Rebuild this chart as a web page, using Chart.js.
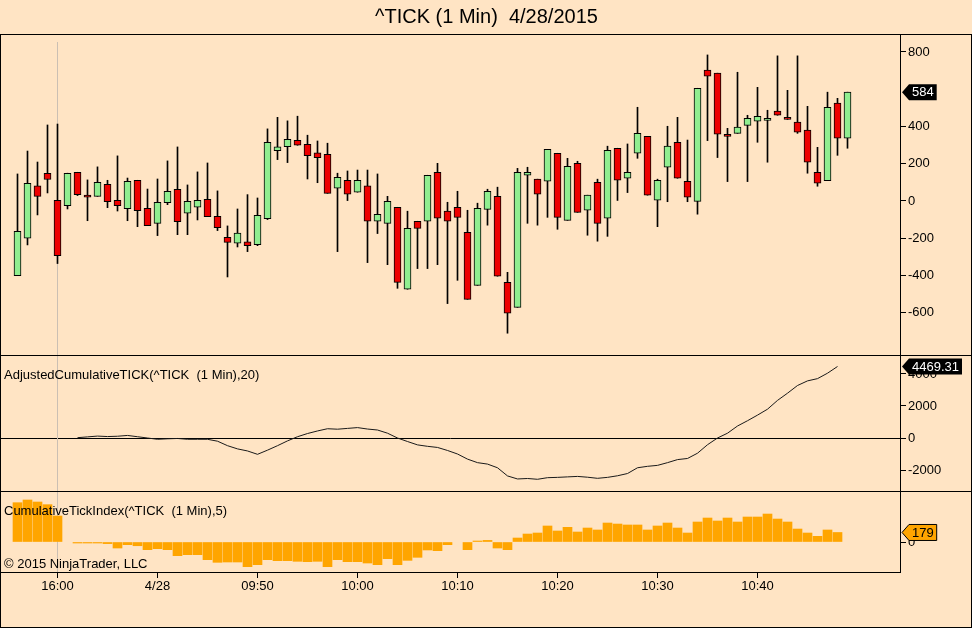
<!DOCTYPE html>
<html><head><meta charset="utf-8">
<script src="https://cdn.jsdelivr.net/npm/chart.js@4.4.1/dist/chart.umd.min.js"></script>
<style>html,body{margin:0;padding:0;background:#FFE4C4;}canvas{display:block;}</style>
</head><body>
<canvas id="c" width="972" height="628"></canvas>
<script>
const times = ['15:56','15:57','15:58','15:59','16:00',
'09:31','09:32','09:33','09:34','09:35','09:36','09:37','09:38','09:39','09:40',
'09:41','09:42','09:43','09:44','09:45','09:46','09:47','09:48','09:49','09:50',
'09:51','09:52','09:53','09:54','09:55','09:56','09:57','09:58','09:59','10:00',
'10:01','10:02','10:03','10:04','10:05','10:06','10:07','10:08','10:09','10:10',
'10:11','10:12','10:13','10:14','10:15','10:16','10:17','10:18','10:19','10:20',
'10:21','10:22','10:23','10:24','10:25','10:26','10:27','10:28','10:29','10:30',
'10:31','10:32','10:33','10:34','10:35','10:36','10:37','10:38','10:39','10:40',
'10:41','10:42','10:43','10:44','10:45','10:46','10:47','10:48','10:49'];

const openV = [-401,-200,81,149,4,-25,154,32,25,89,4,-41,111,-39,-120,-9,63,-66,-34,9,
-82,-195,-227,-220,-235,-95,270,292,326,304,258,251,68,111,47,81,-109,-120,-34,-474,
-109,-109,154,-55,-34,-168,-453,-45,25,-437,-571,138,117,106,256,-104,202,-50,100,-93,
283,122,256,347,4,181,315,106,-2,702,686,358,363,406,428,433,482,440,423,380,
154,109,525,337];
const highV = [145,268,209,408,413,149,154,113,183,111,242,123,111,64,118,215,290,86,156,204,
54,-134,-43,34,16,387,449,430,455,353,322,310,149,161,166,166,145,25,-34,-55,
-109,138,202,-7,52,-50,-12,63,74,-383,175,181,117,277,256,229,213,31,117,294,
283,306,503,347,117,401,449,327,605,784,686,390,691,460,610,487,779,594,779,508,
288,584,551,584];
const lowV = [-401,-236,-75,43,-336,-43,29,-106,25,-36,-54,-106,-138,-132,-186,-20,-181,-181,-102,-84,
-159,-408,-247,-272,-240,-100,222,206,299,118,98,41,-272,2,47,-331,-175,-342,-469,-474,
-363,-363,-342,-551,-426,-528,-453,-130,-404,-710,-571,-120,-130,-88,-152,-104,-61,-184,-216,-190,
0,45,229,31,-138,-4,122,-4,-71,324,233,104,363,104,315,208,460,438,363,149,
79,109,245,283];
const closeV = [-163,95,25,115,-294,149,34,20,100,-4,-25,106,-52,-132,-7,52,-111,-2,4,-84,
-143,-222,-173,-240,-77,315,290,331,299,243,233,41,127,36,111,-109,-72,-2,-437,-147,
-147,138,-93,-109,-88,-528,-39,52,-404,-603,154,154,36,277,-88,186,-61,31,-120,272,
111,154,363,31,111,294,122,20,605,670,358,347,396,444,455,444,460,438,369,208,
95,503,337,584];

const actValues = [null,null,null,null,null,null,
20,70,120,90,110,160,80,0,-80,-50,
-30,-80,-80,-80,-200,-480,-680,-810,-1020,-760,
-480,-180,80,280,440,580,550,600,650,560,
500,300,0,-220,-430,-520,-590,-780,-1000,-1320,
-1540,-1630,-1860,-2370,-2560,-2530,-2580,-2480,-2460,-2430,
-2400,-2450,-2520,-2460,-2360,-2220,-1860,-1770,-1710,-1540,
-1350,-1280,-950,-420,0,300,750,1080,1430,1800,
2350,2800,3280,3570,3710,4050,4469.31,null];

const ctiValues = [739,790,752,702,489,null,-15,-15,-15,-30,
-113,-50,-70,-144,-125,-144,-257,-238,-238,-332,
-382,-376,-376,-464,-426,-332,-351,-351,-363,-370,
-363,-464,-332,-370,-370,-395,-426,-313,-426,-345,
-288,-150,-163,-50,null,-144,5,30,-113,-144,
75,150,169,301,207,276,188,263,226,357,
338,320,320,226,301,357,263,169,376,451,
395,451,376,470,470,526,432,376,244,169,
107,226,179,null];

const tickTimes = ['16:00','09:40','09:50','10:00','10:10','10:20','10:30','10:40'];
const tickText  = ['16:00','4/28','09:50','10:00','10:10','10:20','10:30','10:40'];
const mainTicks = [-600,-400,-200,0,200,400,800];
const actTicks = [-2000,0,2000,4000];
const ctiTicks = [0];

const titleText = '^TICK (1 Min)  4/28/2015';
const actLabel = 'AdjustedCumulativeTICK(^TICK  (1 Min),20)';
const ctiLabel = 'CumulativeTickIndex(^TICK  (1 Min),5)';
const copyText = '\u00A9 2015 NinjaTrader, LLC';

const FONT = '"Liberation Sans", Arial, sans-serif';
const BG = '#FFE4C4';
const UP = '#90EE90', DOWN = '#EE0000', ORANGE = '#FFA500';

const bodyData = times.map((t, i) => ({x: i, y: [openV[i], closeV[i]]}));
const wickData = times.map((t, i) => ({x: i, y: [lowV[i], highV[i]]}));
const bodyColors = times.map((t, i) => closeV[i] >= openV[i] ? UP : DOWN);
const actData = times.map((t, i) => ({x: i, y: actValues[i]})).filter(p => p.y !== null);
const ctiData = times.map((t, i) => ({x: i, y: ctiValues[i]})).filter(p => p.y !== null);

function lastOf(arr) { for (let i = arr.length - 1; i >= 0; i--) if (arr[i] !== null) return arr[i]; return null; }

function drawTag(ctx, x, y, text, bg, fg, border) {
  ctx.save();
  ctx.font = '13px ' + FONT;
  const w = ctx.measureText(text).width;
  const x0 = x, x1 = x + 7, x2 = x1 + w + 6, h = 8;
  ctx.beginPath();
  ctx.moveTo(x0, y); ctx.lineTo(x1, y - h); ctx.lineTo(x2, y - h); ctx.lineTo(x2, y + h); ctx.lineTo(x1, y + h); ctx.closePath();
  ctx.fillStyle = bg; ctx.fill();
  if (border) { ctx.strokeStyle = border; ctx.lineWidth = 1; ctx.stroke(); }
  ctx.fillStyle = fg; ctx.textBaseline = 'middle'; ctx.textAlign = 'left';
  ctx.fillText(text, x1 + 3, y + 0.5);
  ctx.restore();
}

const framePlugin = {
  id: 'frame',
  beforeDraw(chart) {
    const ctx = chart.ctx;
    ctx.save(); ctx.fillStyle = BG; ctx.fillRect(0, 0, chart.width, chart.height); ctx.restore();
  },
  beforeDatasetsDraw(chart) {
    const ctx = chart.ctx, xs = chart.scales.x;
    const sx = Math.round(xs.getPixelForValue(times.indexOf('16:00')) - 0.5) + 0.5;
    ctx.save();
    ctx.strokeStyle = '#cbbfb3'; ctx.lineWidth = 1;
    ctx.beginPath(); ctx.moveTo(sx, 42); ctx.lineTo(sx, chart.chartArea.bottom); ctx.stroke();
    ctx.restore();
  },
  afterDraw(chart) {
    const ctx = chart.ctx, W = chart.width, H = chart.height;
    const y2 = chart.scales.y2, y3 = chart.scales.y3, y1 = chart.scales.y;
    ctx.save();
    ctx.strokeStyle = '#000'; ctx.lineWidth = 1;
    ctx.beginPath();
    ctx.moveTo(0, 34.5); ctx.lineTo(W, 34.5);
    ctx.moveTo(0, Math.round(y2.top) + 0.5); ctx.lineTo(W, Math.round(y2.top) + 0.5);
    ctx.moveTo(0, Math.round(y3.top) + 0.5); ctx.lineTo(W, Math.round(y3.top) + 0.5);
    ctx.moveTo(0.5, 34); ctx.lineTo(0.5, H);
    ctx.moveTo(W - 0.5, 34); ctx.lineTo(W - 0.5, H);
    ctx.moveTo(0, H - 0.5); ctx.lineTo(W, H - 0.5);
    ctx.stroke();
    ctx.fillStyle = '#000'; ctx.font = '13px ' + FONT; ctx.textBaseline = 'middle'; ctx.textAlign = 'left';
    ctx.fillText(actLabel, 4, y2.top + 20);
    ctx.fillText(ctiLabel, 4, y3.top + 20);
    ctx.fillText(copyText, 4, y3.bottom - 8);
    ctx.restore();
    const tx = y1.left + 2;
    drawTag(ctx, tx, y1.getPixelForValue(closeV[closeV.length - 1]), String(closeV[closeV.length - 1]), '#000', '#fff', null);
    drawTag(ctx, tx, y2.getPixelForValue(lastOf(actValues)), lastOf(actValues).toFixed(2), '#000', '#fff', null);
    drawTag(ctx, tx, y3.getPixelForValue(lastOf(ctiValues)), String(lastOf(ctiValues)), ORANGE, '#000', '#000');
  }
};

const tickFont = {family: FONT, size: 13};
function yAxis(weight, min, max, tickList, zeroLine) {
  return {
    type: 'linear', position: 'right', stack: 'panels', stackWeight: weight,
    min: min, max: max,
    afterBuildTicks: s => { s.ticks = tickList.map(v => ({value: v})); },
    afterFit: s => { s.width = 72; },
    border: {display: true, color: '#000', width: 1},
    grid: {
      drawOnChartArea: zeroLine, drawTicks: true, tickLength: 6, tickColor: '#000', offset: false,
      color: ctx => (zeroLine && ctx.tick && ctx.tick.value === 0) ? '#000' : 'rgba(0,0,0,0)', lineWidth: 1
    },
    ticks: {color: '#000', font: tickFont, padding: 2, callback: v => String(v)}
  };
}

new Chart(document.getElementById('c'), {
  type: 'bar',
  data: {
    datasets: [
      {type: 'bar', label: 'wick', data: wickData, yAxisID: 'y', backgroundColor: '#000', borderWidth: 0,
       barThickness: 1, grouped: false, order: 3},
      {type: 'bar', label: 'body', data: bodyData, yAxisID: 'y', backgroundColor: bodyColors, borderColor: '#000',
       borderWidth: 1, borderSkipped: false, barThickness: 7, minBarLength: 2, grouped: false, order: 2},
      {type: 'line', label: 'AdjustedCumulativeTICK', data: actData, yAxisID: 'y2', borderColor: '#1a1a1a',
       borderWidth: 1, pointRadius: 0, tension: 0, fill: false, order: 1},
      {type: 'bar', label: 'CumulativeTickIndex', data: ctiData, yAxisID: 'y3', backgroundColor: ORANGE,
       borderWidth: 0, barThickness: 9, minBarLength: 1, grouped: false, order: 1}
    ]
  },
  options: {
    responsive: false, animation: false, devicePixelRatio: 1,
    layout: {padding: {left: 1, right: 0, top: 0, bottom: 0}},
    plugins: {
      legend: {display: false}, tooltip: {enabled: false},
      title: {display: true, text: titleText, color: '#000', font: {family: FONT, size: 20, weight: 'normal'},
              padding: {top: 5, bottom: 6}}
    },
    scales: {
      x: {
        type: 'linear', min: -1.65, max: 88.25, offset: false,
        afterBuildTicks: s => { s.ticks = tickTimes.map(t => ({value: times.indexOf(t)})); },
        afterFit: s => { s.height = 56; },
        border: {display: true, color: '#000', width: 1},
        grid: {drawOnChartArea: false, drawTicks: true, tickLength: 6, tickColor: '#000', offset: false},
        ticks: {autoSkip: false, maxRotation: 0, padding: 1, color: '#000', font: tickFont,
                callback: (v, i) => tickText[i]}
      },
      y: yAxis(320, -827, 891, mainTicks, false),
      y2: yAxis(136, -3312, 5187, actTicks, true),
      y3: yAxis(81, -564, 959, ctiTicks, false)
    }
  },
  plugins: [framePlugin]
});
</script>
</body></html>
